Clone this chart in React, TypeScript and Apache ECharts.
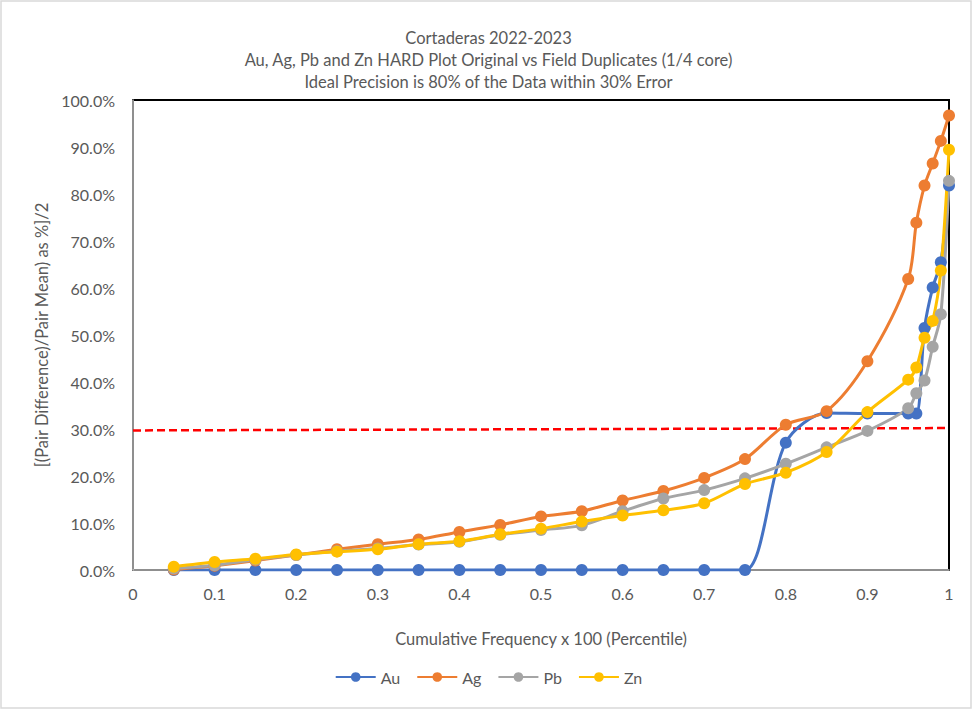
import React, { useEffect, useRef } from "react";
import * as echarts from "echarts";

const xValues = [0.05, 0.1, 0.15, 0.2, 0.25, 0.3, 0.35, 0.4, 0.45, 0.5, 0.55, 0.6, 0.65, 0.7, 0.75, 0.8, 0.85, 0.9, 0.95, 0.96, 0.97, 0.98, 0.99, 1.0];
const auValues = [0, 0, 0, 0, 0, 0, 0, 0, 0, 0, 0, 0, 0, 0, 0, 27.1, 33.4, 33.3, 33.3, 33.3, 51.5, 60.1, 65.5, 81.8];
const agValues = [0.1, 0.9, 2.0, 3.2, 4.4, 5.5, 6.5, 8.1, 9.6, 11.4, 12.5, 14.8, 16.8, 19.6, 23.6, 30.9, 33.8, 44.4, 61.9, 73.9, 81.8, 86.5, 91.3, 96.7];
const pbValues = [0.3, 1.0, 2.2, 3.2, 4.0, 4.6, 5.4, 6.0, 7.5, 8.5, 9.5, 12.5, 15.2, 17.0, 19.5, 22.6, 26.1, 29.6, 34.4, 37.6, 40.3, 47.5, 54.4, 82.8];
const znValues = [0.7, 1.7, 2.4, 3.3, 3.9, 4.4, 5.5, 6.1, 7.6, 8.8, 10.3, 11.6, 12.7, 14.2, 18.3, 20.7, 25.1, 33.6, 40.5, 43.1, 49.4, 53.0, 63.7, 89.4];
const refLineX = [0, 1];
const refLineY = [29.7, 30.2];
const titleLines = [
  "Cortaderas 2022-2023",
  "Au, Ag, Pb and Zn HARD Plot Original vs Field Duplicates (1/4 core)",
  "Ideal Precision is 80% of the Data within 30% Error",
];
const xAxisName = "Cumulative Frequency x 100 (Percentile)";
const yAxisName = "[(Pair Difference)/Pair Mean) as %]/2";

const FONT = "Lato";
const TEXT = "#595959";

function pairs(xs: number[], ys: number[]) {
  return xs.map((x, i) => [x, ys[i]]);
}

export default function App() {
  const ref = useRef<HTMLDivElement>(null);
  useEffect(() => {
    document.body.style.margin = "0";
    if (!ref.current) return;
    const chart = echarts.init(ref.current, undefined, { renderer: "svg" });
    const mk = (name: string, color: string, ys: number[]) => ({
      name,
      type: "line",
      data: pairs(xValues, ys),
      smooth: 0.3,
      symbol: "circle",
      symbolSize: 12,
      showSymbol: true,
      lineStyle: { color, width: 3 },
      itemStyle: { color },
      emphasis: { disabled: true },
    });
    chart.setOption({
      animation: false,
      textStyle: { fontFamily: FONT },
      title: {
        text: titleLines.join("\n"),
        left: "center",
        top: 22,
        textStyle: { fontFamily: FONT, fontSize: 16.5, fontWeight: "normal", color: TEXT, lineHeight: 22 },
      },
      graphic: [
        {
          type: "rect",
          shape: { x: 1, y: 1, width: 970, height: 707 },
          style: { fill: "none", stroke: "#d9d9d9", lineWidth: 1.5 },
          silent: true,
        },
      ],
      grid: {
        left: 133,
        right: 28,
        top: 100,
        bottom: 142,
        show: true,
        borderColor: "#000000",
        borderWidth: 2,
        backgroundColor: "transparent",
      },
      legend: {
        bottom: 22,
        left: "center",
        data: ["Au", "Ag", "Pb", "Zn"],
        itemWidth: 40,
        itemHeight: 12,
        itemGap: 16,
        textStyle: { fontFamily: FONT, fontSize: 16, color: TEXT },
      },
      xAxis: {
        type: "value",
        min: 0,
        max: 1,
        interval: 0.1,
        name: xAxisName,
        nameLocation: "middle",
        nameGap: 60,
        nameTextStyle: { fontFamily: FONT, fontSize: 16.5, color: TEXT },
        axisLine: { show: true, lineStyle: { color: "#bfbfbf", width: 1.5 } },
        axisTick: { show: false },
        splitLine: { show: false },
        axisLabel: {
          color: TEXT,
          fontSize: 16,
          fontFamily: FONT,
          margin: 15,
          formatter: (v: number) => String(Math.round(v * 10) / 10),
        },
      },
      yAxis: {
        type: "value",
        min: 0,
        max: 100,
        interval: 10,
        name: yAxisName,
        nameLocation: "middle",
        nameGap: 82,
        nameTextStyle: { fontFamily: FONT, fontSize: 16.5, color: TEXT },
        axisLine: { show: true, lineStyle: { color: "#bfbfbf", width: 1.5 } },
        axisTick: { show: false },
        splitLine: { show: false },
        axisLabel: {
          color: TEXT,
          fontSize: 16,
          fontFamily: FONT,
          margin: 18,
          formatter: (v: number) => v.toFixed(1) + "%",
        },
      },
      series: [
        mk("Au", "#4472C4", auValues),
        mk("Ag", "#ED7D31", agValues),
        mk("Pb", "#A5A5A5", pbValues),
        mk("Zn", "#FFC000", znValues),
        {
          name: "30% Error",
          type: "line",
          data: pairs(refLineX, refLineY),
          symbol: "none",
          lineStyle: { color: "#FF0000", width: 2.5, type: [8, 4] },
          emphasis: { disabled: true },
          z: 1,
        },
      ],
    });
    return () => chart.dispose();
  }, []);
  return <div ref={ref} style={{ width: 977, height: 712 }} />;
}
